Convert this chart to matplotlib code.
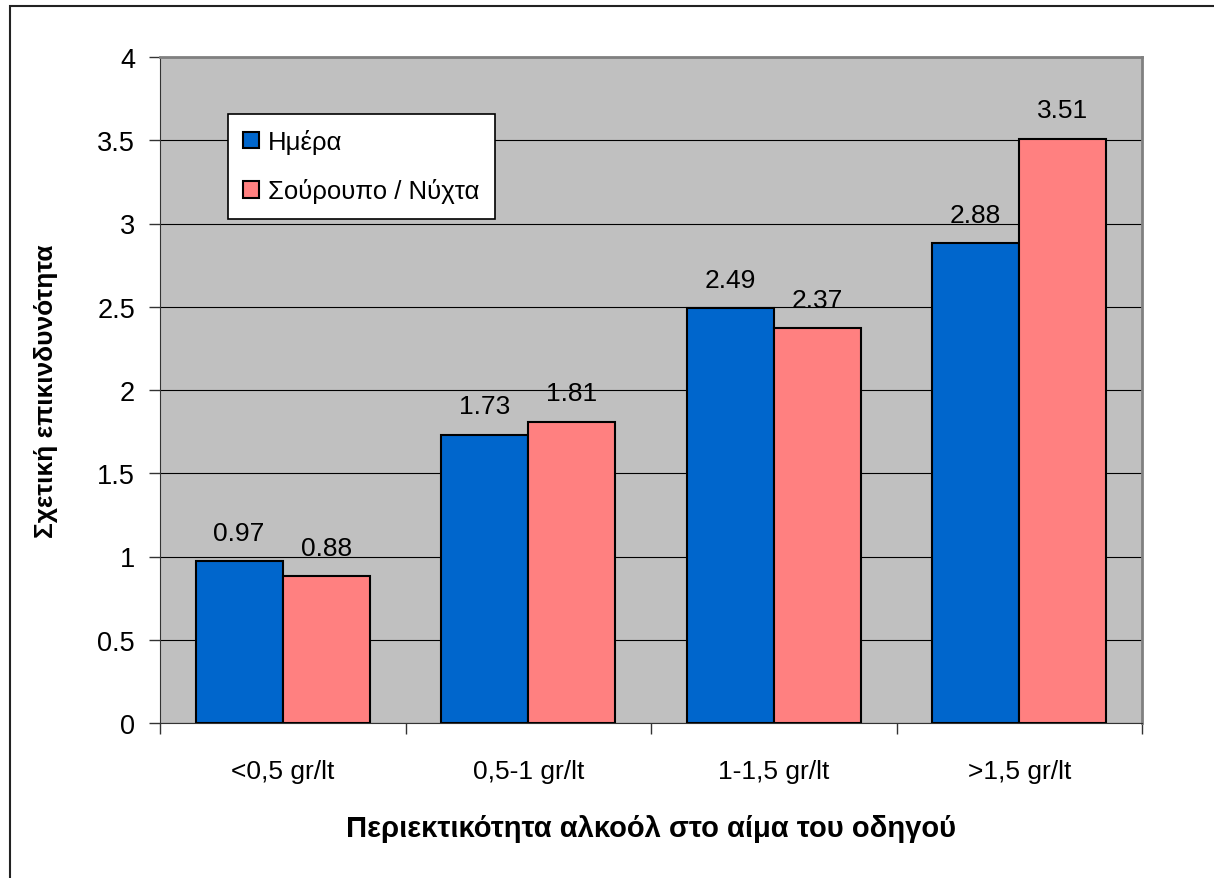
import numpy as np
import matplotlib.pyplot as plt
from matplotlib.patches import Rectangle

plt.rcParams['font.family'] = ['Liberation Sans', 'DejaVu Sans']

# chart data
categories = ["<0,5 gr/lt", "0,5-1 gr/lt", "1-1,5 gr/lt", ">1,5 gr/lt"]
day = [0.97, 1.73, 2.49, 2.88]
night = [0.88, 1.81, 2.37, 3.51]
series_names = ["Ημέρα", "Σούρουπο / Νύχτα"]
yticks = [0, 0.5, 1, 1.5, 2, 2.5, 3, 3.5, 4]

fig = plt.figure(figsize=(12.14, 8.79), dpi=100)
ax = fig.add_axes([160 / 1214, 1 - 724 / 879, 982 / 1214, 666 / 879])
ax.set_facecolor("#C0C0C0")

# outer chart border (only top/left visible inside the image)
fig.patches.append(Rectangle((10 / 1214, -0.1), 1.2, 1 - 7 / 879 + 0.1,
                             transform=fig.transFigure, fill=False,
                             edgecolor="#222222", linewidth=1.5, zorder=0))

x = np.arange(len(categories)) + 0.5
w = 0.355
b1 = ax.bar(x - w / 2, day, w, color="#0066CC", edgecolor="black",
            linewidth=1.5, label=series_names[0], zorder=3)
b2 = ax.bar(x + w / 2, night, w, color="#FF8080", edgecolor="black",
            linewidth=1.5, label=series_names[1], zorder=3)

for bars, vals in ((b1, day), (b2, night)):
    for r, v in zip(bars, vals):
        ax.annotate(f"{v:.2f}", (r.get_x() + r.get_width() / 2, v),
                    xytext=(0, 12), textcoords="offset points",
                    ha="center", va="bottom", fontsize=19)

ax.set_xlim(0, 4)
ax.set_ylim(0, 4)
ax.set_yticks(yticks)
ax.set_yticklabels([f"{t:g}" for t in yticks])
ax.yaxis.grid(True, color="black", linewidth=0.8, zorder=0)
ax.set_axisbelow(True)

ax.set_xticks([0, 1, 2, 3, 4])
ax.set_xticklabels([])
ax.set_xticks(x, minor=True)
ax.set_xticklabels(categories, minor=True)
ax.tick_params(axis="x", which="minor", length=0, pad=26, labelsize=19)
ax.tick_params(axis="x", which="major", length=8, width=1, color="#333333")
ax.tick_params(axis="y", length=8, width=1, pad=10, labelsize=19.5,
               color="#333333")

for s in ("top", "right"):
    ax.spines[s].set_color("#808080")
    ax.spines[s].set_linewidth(2)
ax.spines["left"].set_color("#333333")
ax.spines["bottom"].set_color("#333333")

ax.set_ylabel("Σχετική επικινδυνότητα", fontsize=19, fontweight="bold",
              labelpad=28)
ax.set_xlabel("Περιεκτικότητα αλκοόλ στο αίμα του οδηγού", fontsize=21,
              fontweight="bold", labelpad=22)

leg = ax.legend(loc="upper left", bbox_to_anchor=(0.069, 0.915), fontsize=18.5,
                frameon=True, fancybox=False, handlelength=0.6,
                handleheight=0.6, handletextpad=0.35, labelspacing=0.95,
                borderpad=0.6, borderaxespad=0)
leg.get_frame().set_edgecolor("black")
leg.get_frame().set_linewidth(1.2)
leg.get_frame().set_facecolor("white")
leg.get_frame().set_alpha(1)

fig.savefig("out.png", dpi=100)
